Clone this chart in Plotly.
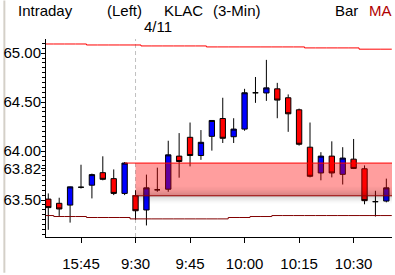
import plotly.graph_objects as go

# ---------------- data ----------------
bar_index = list(range(32))          # 3-min bars: 15:36 .. 15:57 (prev day), 9:30 .. 10:39 (4/11)
first_today = 8                      # index of the 9:30 bar
x_tick_index = [3, 8, 13, 18, 23, 28]
x_tick_labels = ["15:45", "9:30", "9:45", "10:00", "10:15", "10:30"]
y_tick_values = [63.50, 63.82, 64.00, 64.50, 65.00]

open_ = [63.510, 63.467, 63.449, 63.631, 63.652, 63.780, 63.719, 63.568,
         63.544, 63.399, 63.605, 63.611, 63.949, 64.141, 63.955, 64.151,
         64.333, 64.147, 64.225, 64.596, 64.594, 64.636, 64.545, 64.422,
         64.040, 63.777, 63.949, 63.763, 63.918, 63.820, 63.484, 63.490]
high = [63.568, 63.524, 63.638, 63.861, 63.770, 63.947, 63.813, 63.888,
        63.601, 63.760, 63.831, 64.106, 64.184, 64.292, 64.215, 64.315,
        64.545, 64.336, 64.636, 64.757, 64.932, 64.697, 64.579, 64.434,
        64.292, 63.989, 64.100, 64.040, 64.124, 63.854, 63.595, 63.719]
low = [63.197, 63.338, 63.270, 63.618, 63.517, 63.702, 63.551, 63.551,
       63.300, 63.241, 63.585, 63.585, 63.729, 63.844, 63.911, 64.005,
       64.083, 64.083, 64.208, 64.493, 64.513, 64.336, 64.197, 64.056,
       63.732, 63.702, 63.732, 63.659, 63.817, 63.457, 63.332, 63.477]
close = [63.423, 63.409, 63.635, 63.631, 63.760, 63.712, 63.568, 63.878,
         63.391, 63.625, 63.605, 63.962, 63.894, 63.955, 64.090, 64.313,
         64.131, 64.225, 64.596, 64.596, 64.646, 64.521, 64.381, 64.070,
         63.743, 63.949, 63.777, 63.929, 63.823, 63.494, 63.484, 63.625]

ma_upper = [65.094, 65.094, 65.094, 65.094, 65.084, 65.084, 65.084, 65.084,
            65.084, 65.074, 65.074, 65.074, 65.074, 65.074, 65.074, 65.064,
            65.064, 65.064, 65.064, 65.064, 65.064, 65.064, 65.064, 65.064,
            65.054, 65.054, 65.054, 65.054, 65.054, 65.041, 65.041, 65.041]
ma_lower = [63.342, 63.332, 63.332, 63.332, 63.322, 63.322, 63.322, 63.322,
            63.308, 63.308, 63.308, 63.308, 63.308, 63.308, 63.308, 63.308,
            63.308, 63.322, 63.322, 63.332, 63.332, 63.342, 63.342, 63.342,
            63.342, 63.342, 63.342, 63.342, 63.342, 63.342, 63.342, 63.342]

# ---------------- layout constants ----------------
W, H = 395, 275
ML, MR, MT, MB = 43, 3, 39, 36
X_RANGE = [-0.21, 31.52]
Y_RANGE = [63.123, 65.145]
FONT = "Liberation Sans"


def px(x):
    return (x - ML) / (W - ML - MR)


def py(y):
    return (H - MB - y) / (H - MT - MB)


def steps(vals):
    xs = [i - 0.5 for i in bar_index] + [bar_index[-1] + 0.5]
    ys = list(vals) + [vals[-1]]
    return xs, ys


fig = go.Figure()

ux, uy = steps(ma_upper)
fig.add_trace(go.Scatter(x=ux, y=uy, mode="lines", line=dict(color="#ff0000", width=1, shape="hv"),
                         hoverinfo="skip", showlegend=False))
lx, ly = steps(ma_lower)
fig.add_trace(go.Scatter(x=lx, y=ly, mode="lines", line=dict(color="#800000", width=1, shape="hv"),
                         hoverinfo="skip", showlegend=False))

fig.add_trace(go.Candlestick(
    x=bar_index, open=open_, high=high, low=low, close=close,
    increasing=dict(line=dict(color="#000000", width=1), fillcolor="#0000ff"),
    decreasing=dict(line=dict(color="#000000", width=1), fillcolor="#ff0000"),
    whiskerwidth=0, showlegend=False,
))

prev_close = close[first_today - 1]
today_open = open_[first_today]
shapes = []
# day separator
shapes.append(dict(type="line", xref="x", yref="paper", x0=first_today, x1=first_today, y0=0, y1=1,
                   line=dict(color="#c0c0c0", width=1, dash="4px,3px"), layer="below"))
# gap band
shapes.append(dict(type="rect", xref="x", yref="y", x0=first_today, x1=X_RANGE[1],
                   y0=today_open, y1=prev_close, fillcolor="rgba(255,0,0,0.38)", line=dict(width=0),
                   layer="above"))
# shadow gradient inside band (towards bottom) and below it
unit = (Y_RANGE[1] - Y_RANGE[0]) / (H - MT - MB)
inner = [0.02, 0.04, 0.06, 0.09, 0.12, 0.16]
for k, a in enumerate(inner):
    y1 = today_open + (len(inner) - k) * 1.5 * unit
    y0 = today_open + (len(inner) - k - 1) * 1.5 * unit
    shapes.append(dict(type="rect", xref="x", yref="y", x0=first_today, x1=X_RANGE[1], y0=y0, y1=y1,
                       fillcolor=f"rgba(0,0,0,{a})", line=dict(width=0), layer="above"))
outer = [0.18, 0.13, 0.09, 0.06, 0.035, 0.015]
for k, a in enumerate(outer):
    y1 = today_open - k * 1.3 * unit
    y0 = today_open - (k + 1) * 1.3 * unit
    shapes.append(dict(type="rect", xref="x", yref="y", x0=first_today, x1=X_RANGE[1], y0=y0, y1=y1,
                       fillcolor=f"rgba(0,0,0,{a})", line=dict(width=0), layer="above"))
shapes.append(dict(type="line", xref="x", yref="y", x0=first_today - 1, x1=X_RANGE[1],
                   y0=prev_close, y1=prev_close, line=dict(color="#ff0000", width=1), layer="above"))
shapes.append(dict(type="line", xref="x", yref="y", x0=first_today - 0.3, x1=X_RANGE[1],
                   y0=today_open, y1=today_open, line=dict(color="#990000", width=1), layer="above"))
# left window border strip
shapes.append(dict(type="rect", xref="paper", yref="paper", x0=px(0), x1=px(2), y0=py(H), y1=py(0),
                   fillcolor="#d4d0c8", line=dict(width=0), layer="below"))

annotations = []
header = [("Intraday", 12.5, "#000000"), ("(Left)", 103, "#000000"), ("KLAC", 160, "#000000"),
          ("(3-Min)", 209, "#000000"), ("Bar", 332.5, "#000000"), ("MA", 366.5, "#b00000")]
for text, xp, col in header:
    annotations.append(dict(text=text, x=px(xp), y=py(10), xref="paper", yref="paper",
                            xanchor="left", yanchor="middle", showarrow=False,
                            font=dict(family=FONT, size=15, color=col)))
annotations.append(dict(text="4/11", x=px(140), y=py(26), xref="paper", yref="paper",
                        xanchor="left", yanchor="middle", showarrow=False,
                        font=dict(family=FONT, size=15, color="#000000")))

fig.update_layout(
    width=W, height=H, margin=dict(l=ML, r=MR, t=MT, b=MB, pad=0),
    paper_bgcolor="#ffffff", plot_bgcolor="#ffffff",
    font=dict(family=FONT, size=15, color="#000000"),
    shapes=shapes, annotations=annotations, showlegend=False,
    xaxis=dict(range=X_RANGE, tickmode="array", tickvals=x_tick_index, ticktext=x_tick_labels,
               showgrid=False, zeroline=False, showline=True, linecolor="#000000", linewidth=1,
               ticks="outside", ticklen=5, tickcolor="#000000", tickwidth=1,
               rangeslider=dict(visible=False), ticklabelstandoff=8,
               tickfont=dict(family=FONT, size=15, color="#000000")),
    yaxis=dict(range=Y_RANGE, tickmode="array", tickvals=y_tick_values,
               ticktext=[f"{v:.2f}" for v in y_tick_values],
               showgrid=False, zeroline=False, showline=True, linecolor="#000000", linewidth=1,
               ticks="outside", ticklen=4, tickcolor="#000000", tickwidth=1,
               ticklabelstandoff=-3,
               minor=dict(tickmode="linear", dtick=0.05, tick0=63.0, ticklen=3, ticks="outside",
                          tickcolor="#000000", tickwidth=1),
               tickfont=dict(family=FONT, size=15, color="#000000")),
)

fig.write_html("out.html")
